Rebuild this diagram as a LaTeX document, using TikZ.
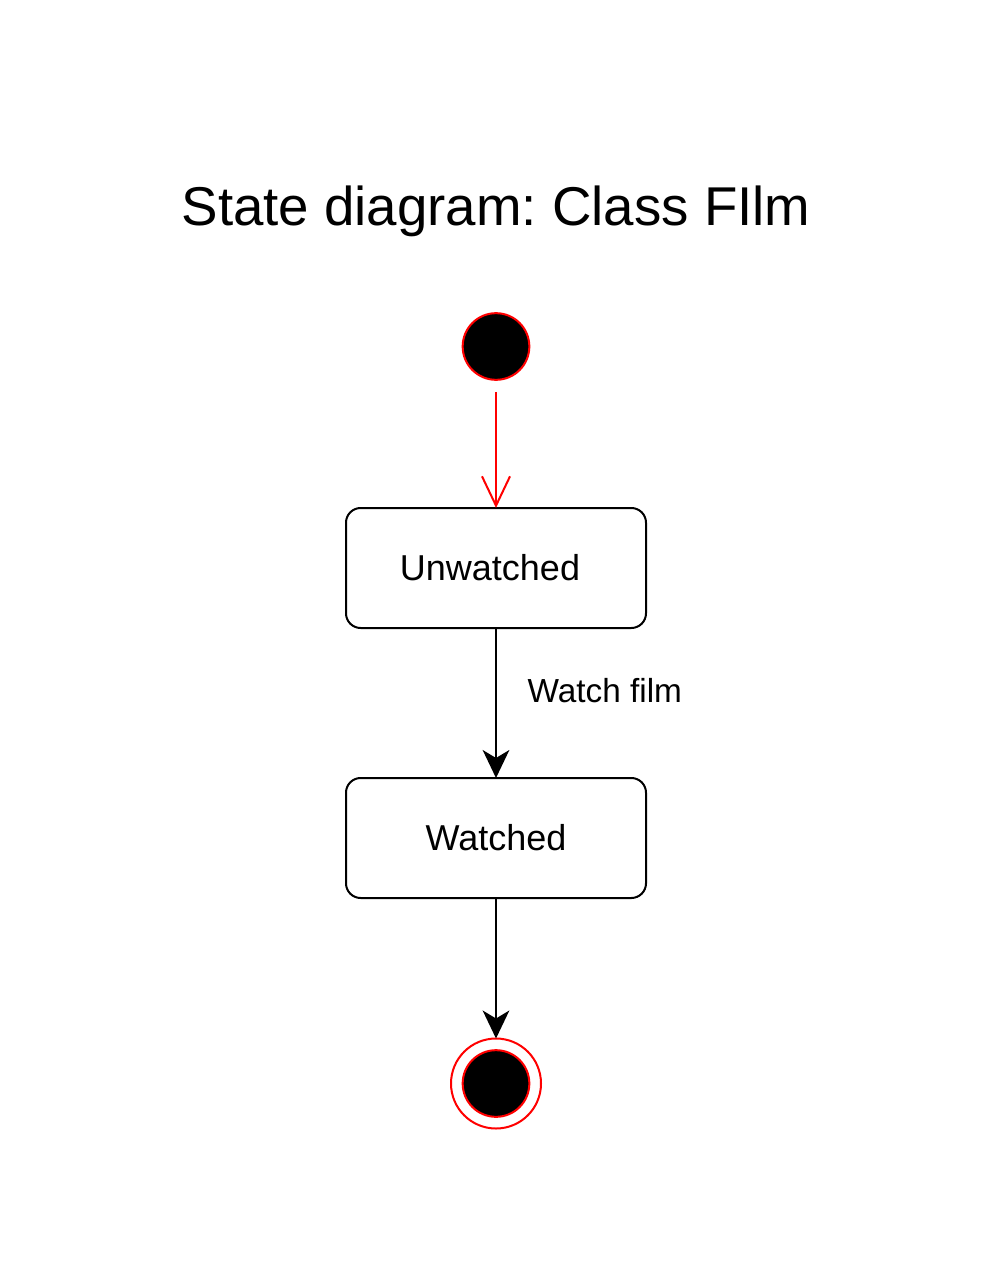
\documentclass[tikz,border=0pt]{standalone}
\usepackage{fontspec}
\setmainfont{Liberation Sans}
\usetikzlibrary{arrows.meta,
                positioning
                }

\frenchspacing

\tikzset{
    state/.style={draw, line width=1.5pt, rounded corners=11pt,
                  minimum width=225pt, minimum height=90pt,
                  inner sep=0pt, outer sep=0pt,
                  font=\fontsize{27}{32}\selectfont},
    startdot/.style={circle, draw=red, fill=black, line width=1.5pt,
                     minimum size=50pt, inner sep=0pt, outer sep=0pt},
    endring/.style={circle, draw=red, line width=1.5pt,
                    minimum size=67.5pt, inner sep=0pt, outer sep=0pt},
    trans/.style={line width=1.5pt,
                  -{Stealth[length=21pt, width=20pt, inset=6pt]}},
    inittrans/.style={red, line width=1.5pt,
                      -{Straight Barb[length=22pt, width=21pt]}}
}

\begin{document}
\begin{tikzpicture}[x=0.75pt, y=-0.75pt]
    \useasboundingbox (0,0) rectangle (989,1280);

    % Titel
    \node (title) at (496,211) {\fontsize{41}{50}\selectfont State diagram: Class FIlm};

    % Startzustand
    \node [startdot] (start) at (496,346.5) {};

    % Zustaende
    \node [state] (unw) at (496,568) {\hspace*{-9pt}Unwatched};
    \node [state] (wat) at (496,838) {Watched};

    % Endzustand
    \node [endring] (end) at (496,1083.5) {};
    \node [startdot] (endin) at (end.center) {};

    % Uebergaenge
    \draw [inittrans, shorten <=9pt] (start) -- (unw);
    \draw [trans] (unw) -- node [pos=0.42, anchor=west, xshift=23pt, inner sep=0pt,
        font=\fontsize{25}{30}\selectfont] {Watch film} (wat);
    \draw [trans] (wat) -- (end);
\end{tikzpicture}
\end{document}
